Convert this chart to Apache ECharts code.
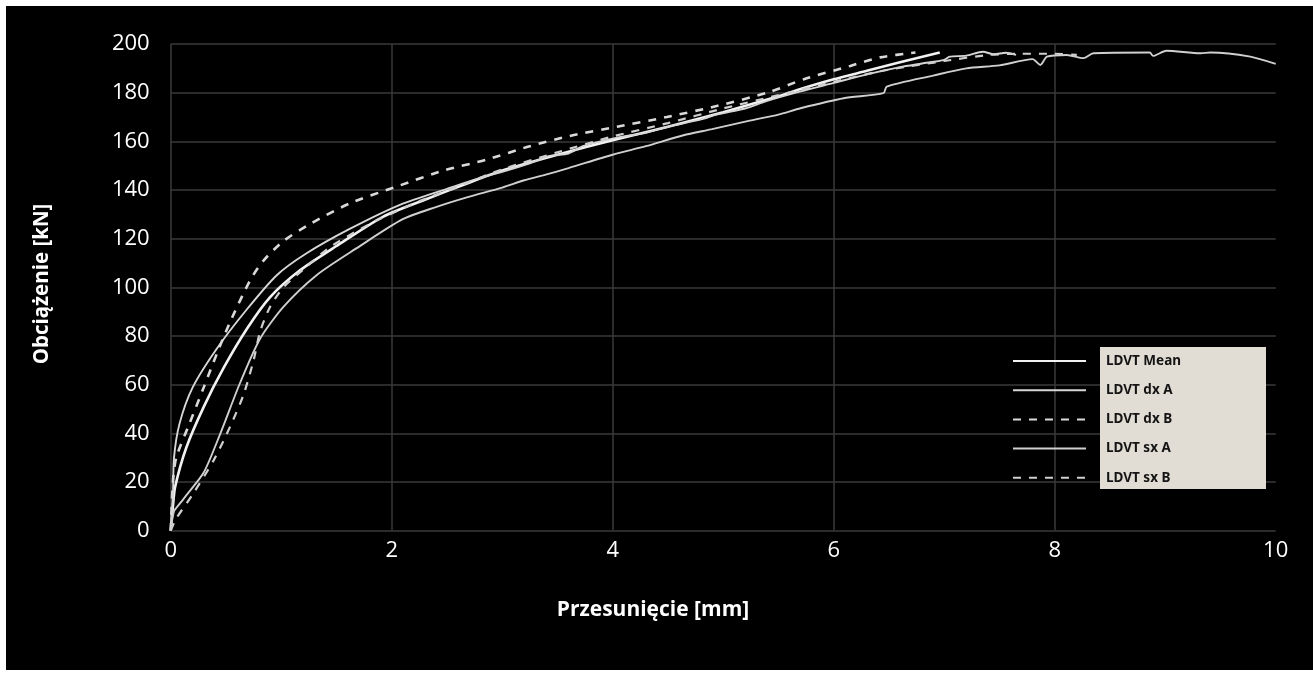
<!DOCTYPE html>
<html>
<head>
<meta charset="utf-8">
<script src="https://cdn.jsdelivr.net/npm/echarts@6/dist/echarts.min.js"></script>
<style>
  html, body { margin: 0; padding: 0; background: #fff; }
  #chart_ldvt {
    position: absolute;
    left: 6px;
    top: 6px;
    width: 1307px;
    height: 664px;
    background: #000;
  }
</style>
</head>
<body>
<div id="chart_ldvt"></div>
<script>
// osie
const xTicks = [0, 2, 4, 6, 8, 10]
const yTicks = [0, 20, 40, 60, 80, 100, 120, 140, 160, 180, 200]
const seriesNames = ['LDVT Mean', 'LDVT dx A', 'LDVT dx B', 'LDVT sx A', 'LDVT sx B']

// [przesuniecie mm, obciazenie kN]
const ldvtMean = [[0,0],[0.02,10],[0.04,18],[0.14,34],[0.3,51],[0.48,67],[0.69,83],[0.9,96],[1.17,107],[1.5,117],
  [1.92,129],[2.3,136],[2.7,143],[3.0,148],[3.5,154.5],[4.0,160.5],[4.5,166],[5.0,172],[5.5,178.5],[5.7,181.5],
  [6.0,185.5],[6.3,189],[6.6,192.5],[6.96,196.5]]
const ldvtDxA = [[0,0],[0.02,15],[0.03,30],[0.08,44],[0.2,59],[0.42,75],[0.69,91],[0.96,105],[1.23,114],[1.62,124],
  [2.08,134],[2.5,140.5],[2.8,145],[3.0,147.5],[3.25,151],[3.43,154],[3.6,155],[3.73,158],[4.04,161.5],[4.3,163.5],
  [4.5,166],[4.8,169],[4.94,171],[5.2,173.5],[5.39,176.5],[5.7,180.5],[6.0,184],[6.3,187.5],[6.6,190.5],[6.8,192],
  [7.0,193.5],[7.05,194.8],[7.2,195.2],[7.35,196.8],[7.45,195.8],[7.56,196.4],[7.65,195.5]]
const ldvtDxB = [[0,0],[0.02,20],[0.05,30],[0.17,44],[0.3,59],[0.42,73],[0.54,86],[0.72,103],[0.84,111],[1.02,119],
  [1.26,126],[1.62,134.5],[2.05,141.5],[2.47,148],[2.86,152.5],[3.25,158],[3.64,162.5],[4.04,166],[4.49,170],
  [4.94,174.5],[5.4,180],[5.73,185.5],[6.15,191],[6.42,194.5],[6.74,196.5]]
const ldvtSxA = [[0,0],[0.03,8],[0.08,11],[0.15,15],[0.3,24],[0.45,40],[0.63,61],[0.81,79],[1.02,92],[1.32,105],
  [1.68,116],[2.1,128],[2.4,133],[2.68,137],[3.0,141],[3.2,144],[3.37,146],[3.6,149],[4.0,154.5],[4.3,158],
  [4.64,162.5],[4.9,165],[5.24,168.5],[5.5,171],[5.7,173.6],[6.09,177.7],[6.45,179.8],[6.48,182.5],[6.9,187],
  [7.2,190],[7.5,191.2],[7.8,193.8],[7.87,191.4],[7.93,194.8],[8.11,195.5],[8.26,194.2],[8.35,196.2],
  [8.86,196.5],[8.89,195.1],[9.01,197.2],[9.32,196.2],[9.41,196.5],[9.77,194.8],[10,191.8]]
const ldvtSxB = [[0,0],[0.05,5],[0.2,15],[0.39,29],[0.54,43],[0.66,56],[0.75,70],[0.81,82],[0.9,92],[1.02,100],
  [1.23,108.5],[1.44,116.5],[1.8,126],[2.2,134.5],[2.6,141.5],[3.0,148.5],[3.5,155.5],[4.0,162],[4.5,167.5],
  [5.0,173.5],[5.5,179],[6.0,184.5],[6.5,189.5],[7.0,193],[7.4,195.5],[7.7,196],[8.0,196],[8.2,195.5]]

const seriesData = [ldvtMean, ldvtDxA, ldvtDxB, ldvtSxA, ldvtSxB]
const seriesLook = [
  { color: '#f2f2f2', width: 2.6, type: 'solid' },
  { color: '#d6d6d6', width: 1.9, type: 'solid' },
  { color: '#d9d9d9', width: 2.6, type: [8, 8] },
  { color: '#cfcfcf', width: 1.9, type: 'solid' },
  { color: '#cfcfcf', width: 2.2, type: [8, 8] }
]

function initOption(){
  let series = seriesNames.map((name, i) => ({
    name: name,
    type: 'line',
    data: seriesData[i],
    symbol: 'none',
    smooth: 0.25,
    color: seriesLook[i].color,
    lineStyle: {
      color: seriesLook[i].color,
      width: seriesLook[i].width,
      type: seriesLook[i].type
    }
  }))
  let option = {
    backgroundColor: '#000',
    animation: false,
    grid: {
      left: 164.7,
      right: 37.3,
      top: 38,
      bottom: 139.3
    },
    xAxis: {
      type: 'value',
      min: xTicks[0],
      max: xTicks[xTicks.length - 1],
      interval: 2,
      axisLine: { show: false },
      axisTick: { show: false },
      axisLabel: { color: '#fff', fontSize: 22, fontFamily: 'Open Sans', margin: 9 },
      splitLine: { show: true, showMaxLine: false, lineStyle: { color: '#3a3a3a', width: 1.5 } }
    },
    yAxis: {
      type: 'value',
      min: yTicks[0],
      max: yTicks[yTicks.length - 1],
      interval: 20,
      axisLine: { show: false },
      axisTick: { show: false },
      axisLabel: { color: '#fff', fontSize: 22, fontFamily: 'Open Sans', margin: 21 },
      splitLine: { show: true, lineStyle: { color: '#3a3a3a', width: 1.5 } }
    },
    legend: {
      orient: 'vertical',
      left: 1001,
      top: 343,
      z: 10,
      itemWidth: 73,
      itemHeight: 14,
      itemGap: 15.2,
      data: seriesNames,
      itemStyle: { opacity: 0 },
      textStyle: {
        color: '#141414',
        fontSize: 13.5,
        fontWeight: 'bold',
        fontFamily: 'Noto Sans',
        padding: [0, 0, 0, 15]
      }
    },
    graphic: [
      {
        type: 'rect',
        left: 1094,
        top: 341,
        z: 9,
        shape: { width: 166, height: 142 },
        style: { fill: '#e1ddd4' }
      },
      {
        type: 'text',
        x: 647,
        y: 604,
        style: {
          text: 'Przesunięcie [mm]',
          fill: '#fff',
          font: 'bold 21px "Open Sans"',
          textAlign: 'center',
          textVerticalAlign: 'middle'
        }
      },
      {
        type: 'text',
        x: 36,
        y: 278,
        rotation: Math.PI / 2,
        style: {
          text: 'Obciążenie [kN]',
          fill: '#fff',
          font: 'bold 20.5px "Open Sans"',
          textAlign: 'center',
          textVerticalAlign: 'middle'
        }
      }
    ],
    series: series
  }
  return option
}

let chart_ldvt = echarts.init(document.getElementById('chart_ldvt'))
chart_ldvt.setOption(initOption())
</script>
</body>
</html>
